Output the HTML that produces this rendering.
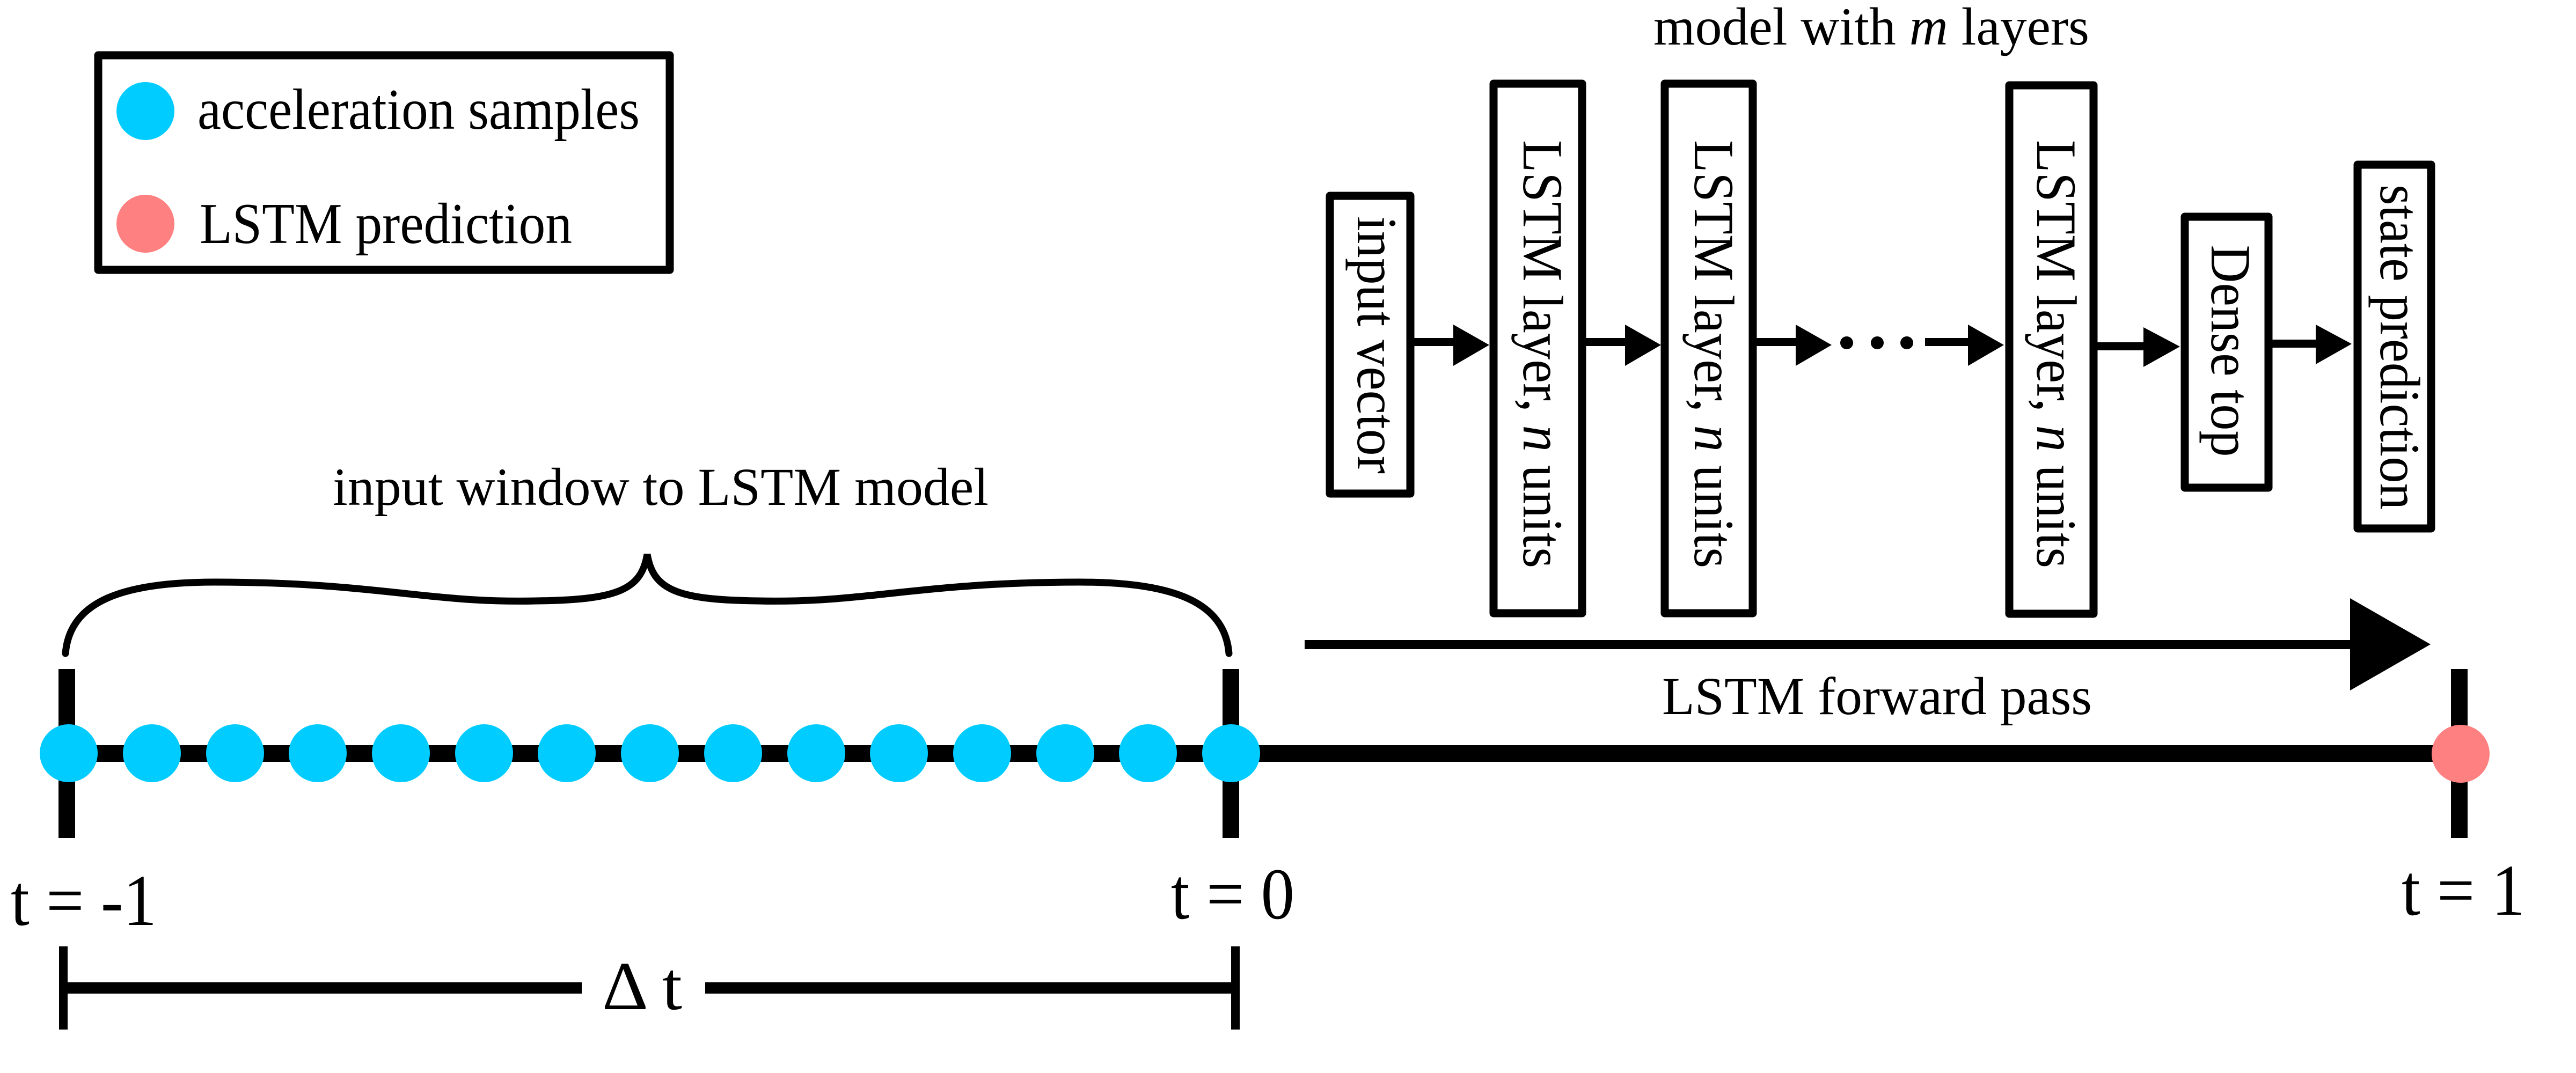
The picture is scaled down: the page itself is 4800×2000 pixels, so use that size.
<!DOCTYPE html>
<html><head><meta charset="utf-8"><style>
html,body{margin:0;padding:0;background:#fff;}
svg{display:block;}
svg text, svg tspan{font-family:"Liberation Serif","Times New Roman","DejaVu Serif",serif !important;fill:#000;}
</style></head><body>
<svg width="4800" height="2000" viewBox="0 0 4800 2000" xmlns="http://www.w3.org/2000/svg" font-family="Liberation Serif, Times New Roman, serif">
<rect width="4800" height="2000" fill="#fff"/>
<!-- legend -->
<rect x="183" y="103" width="1065" height="400" fill="none" stroke="#000" stroke-width="15" stroke-linejoin="round"/>
<circle cx="271" cy="207" r="54" fill="#00ccff"/>
<circle cx="271" cy="417" r="54" fill="#ff8080"/>
<text font-family="Liberation Serif" x="368" y="240" font-size="108" textLength="824" lengthAdjust="spacingAndGlyphs">acceleration samples</text>
<text font-family="Liberation Serif" x="372" y="453" font-size="108" textLength="694" lengthAdjust="spacingAndGlyphs">LSTM prediction</text>

<!-- brace -->
<text font-family="Liberation Serif" x="620" y="941" font-size="100" textLength="1222" lengthAdjust="spacingAndGlyphs">input window to LSTM model</text>
<path d="M122,1218 C130,1120 230,1085 400,1085 C700,1085 800,1125 1000,1120 C1150,1118 1195,1100 1206,1033 C1217,1100 1262,1118 1412,1120 C1612,1125 1712,1085 2012,1085 C2182,1085 2282,1120 2290,1218" fill="none" stroke="#000" stroke-width="13" stroke-linecap="round"/>

<!-- timeline -->
<rect x="128" y="1389" width="4457" height="31" fill="#000"/>
<rect x="109" y="1247" width="31" height="315" fill="#000"/>
<rect x="2278" y="1247" width="31" height="315" fill="#000"/>
<rect x="4567" y="1247" width="31" height="315" fill="#000"/>
<g fill="#00ccff">
<circle cx="128" cy="1404" r="54"/><circle cx="283" cy="1404" r="54"/><circle cx="438" cy="1404" r="54"/><circle cx="592" cy="1404" r="54"/><circle cx="747" cy="1404" r="54"/><circle cx="902" cy="1404" r="54"/><circle cx="1056" cy="1404" r="54"/><circle cx="1211" cy="1404" r="54"/><circle cx="1366" cy="1404" r="54"/><circle cx="1521" cy="1404" r="54"/><circle cx="1675" cy="1404" r="54"/><circle cx="1830" cy="1404" r="54"/><circle cx="1985" cy="1404" r="54"/><circle cx="2139" cy="1404" r="54"/><circle cx="2294" cy="1404" r="54"/>
</g>
<circle cx="4585" cy="1405" r="54" fill="#ff8080"/>
<text font-family="Liberation Serif" x="20" y="1724" font-size="136" textLength="272" lengthAdjust="spacingAndGlyphs">t = -1</text>
<text font-family="Liberation Serif" x="2182" y="1712" font-size="136" textLength="230" lengthAdjust="spacingAndGlyphs">t = 0</text>
<text font-family="Liberation Serif" x="4475" y="1705" font-size="136" textLength="230" lengthAdjust="spacingAndGlyphs">t = 1</text>

<!-- delta t -->
<rect x="110" y="1764" width="16" height="155" fill="#000"/>
<rect x="2294" y="1764" width="16" height="155" fill="#000"/>
<rect x="118" y="1831" width="966" height="21" fill="#000"/>
<rect x="1314" y="1831" width="988" height="21" fill="#000"/>
<text font-family="Liberation Serif" x="1122" y="1881" font-size="128" textLength="149" lengthAdjust="spacingAndGlyphs">Δ t</text>

<!-- model -->
<text font-family="Liberation Serif" x="3081" y="83" font-size="100" textLength="812" lengthAdjust="spacingAndGlyphs">model with <tspan font-style="italic">m</tspan> layers</text>
<g fill="none" stroke="#000" stroke-width="15" stroke-linejoin="round">
<rect x="2478" y="365" width="150" height="555"/>
<rect x="2783" y="156" width="165" height="987"/>
<rect x="3102" y="156" width="164" height="987"/>
<rect x="3744" y="159" width="157" height="985"/>
<rect x="4071" y="404" width="156" height="505"/>
<rect x="4393" y="307" width="137" height="678"/>
</g>
<g font-size="106" font-family="Liberation Serif">
<text transform="translate(2530,643) rotate(90)" text-anchor="middle" textLength="480" lengthAdjust="spacingAndGlyphs">input vector</text>
<text transform="translate(2839,660) rotate(90)" text-anchor="middle" textLength="798" lengthAdjust="spacingAndGlyphs">LSTM layer, <tspan font-style="italic">n</tspan> units</text>
<text transform="translate(3158,660) rotate(90)" text-anchor="middle" textLength="798" lengthAdjust="spacingAndGlyphs">LSTM layer, <tspan font-style="italic">n</tspan> units</text>
<text transform="translate(3796,660) rotate(90)" text-anchor="middle" textLength="798" lengthAdjust="spacingAndGlyphs">LSTM layer, <tspan font-style="italic">n</tspan> units</text>
<text transform="translate(4121,654) rotate(90)" text-anchor="middle" textLength="395" lengthAdjust="spacingAndGlyphs">Dense top</text>
<text transform="translate(4436,647) rotate(90)" text-anchor="middle" textLength="606" lengthAdjust="spacingAndGlyphs">state prediction</text>
</g>
<!-- arrows -->
<g fill="#000">
<rect x="2628" y="630" width="85" height="15"/><polygon points="2708,605 2775,643 2708,682"/>
<rect x="2948" y="630" width="85" height="15"/><polygon points="3028,605 3095,643 3028,682"/>
<rect x="3266" y="630" width="85" height="15"/><polygon points="3346,605 3413,643 3346,682"/>
<circle cx="3441" cy="639" r="12"/><circle cx="3498" cy="639" r="12"/><circle cx="3553" cy="639" r="12"/>
<rect x="3587" y="630" width="85" height="15"/><polygon points="3667,605 3734,643 3667,682"/>
<rect x="3901" y="638" width="95" height="15"/><polygon points="3994,610 4062,646 3994,684"/>
<rect x="4227" y="633" width="90" height="15"/><polygon points="4315,605 4382,641 4315,679"/>
<!-- forward pass -->
<rect x="2431" y="1193" width="1952" height="17"/>
<polygon points="4379,1115 4529,1201 4379,1287"/>
</g>
<text font-family="Liberation Serif" x="3097" y="1331" font-size="100" textLength="801" lengthAdjust="spacingAndGlyphs">LSTM forward pass</text>
</svg>
</body></html>
